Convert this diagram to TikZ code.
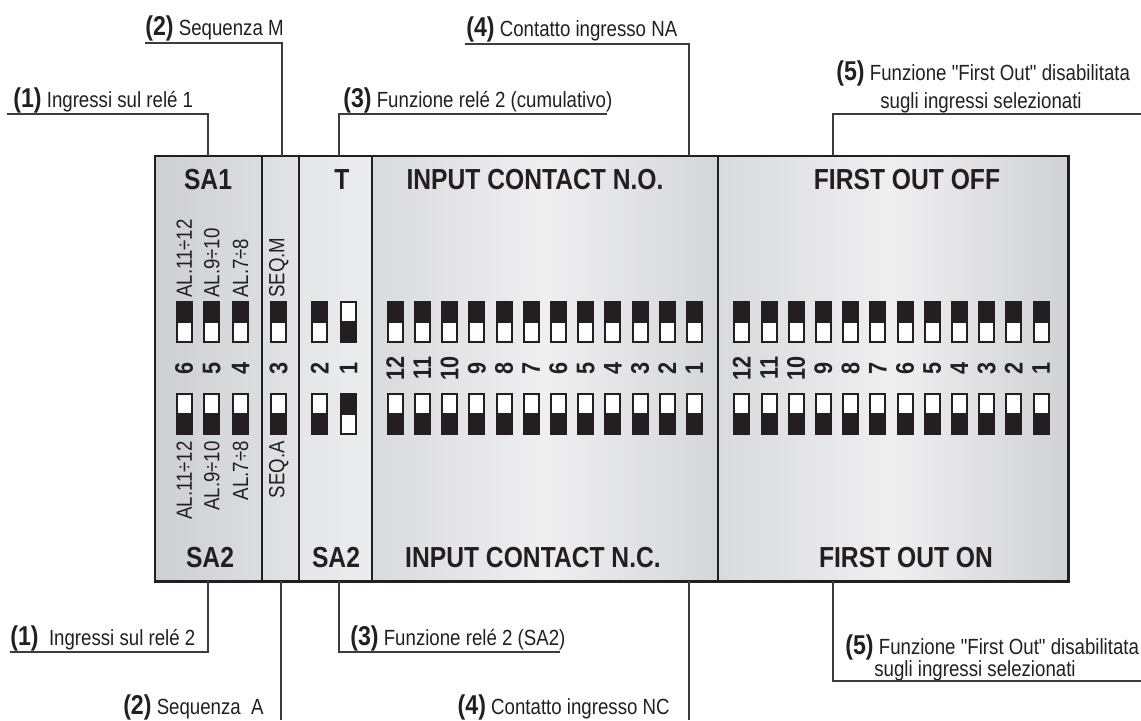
\documentclass[tikz,border=0pt]{standalone}
\usepackage{fontspec}
\setmainfont{Liberation Sans}[FakeStretch=0.85, Ligatures=TeXOff]
\usepackage{tikz}
\usetikzlibrary{positioning}
\definecolor{mydark}{RGB}{35,31,32}
\definecolor{leadgray}{RGB}{60,60,60}
\definecolor{panedge}{RGB}{217,218,220}
\definecolor{panmid}{RGB}{239,239,240}
\definecolor{sagray}{RGB}{206,207,210}
\definecolor{salight}{RGB}{220,221,223}
\definecolor{seqgray}{RGB}{221,222,224}
\definecolor{tgray}{RGB}{229,230,231}
\newcommand{\callno}[1]{{\fontsize{15.5}{15.5}\selectfont\bfseries(#1)}}
% dip switch: lever up (black on top) / lever down
\newcommand{\swup}[2]{\fill[mydark] (#1,#2) rectangle ++(17,42);
  \fill[white] ({#1+2},{#2+22}) rectangle ++(13,18);}
\newcommand{\swdn}[2]{\fill[mydark] (#1,#2) rectangle ++(17,42);
  \fill[white] ({#1+2},{#2+2}) rectangle ++(13,18);}
\tikzset{
  hdr/.style={font=\fontsize{16.5}{16.5}\selectfont\bfseries, text=mydark, inner sep=0pt},
  callout/.style={font=\fontsize{12.5}{13}\selectfont, text=mydark, inner sep=0pt},
  swlbl/.style={font=\fontsize{12.5}{12.5}\selectfont, text=mydark, rotate=90, inner sep=0pt},
  swnum/.style={font=\fontsize{14.5}{14.5}\selectfont\bfseries, text=mydark, rotate=90, inner sep=0pt},
  leader/.style={draw=leadgray, line width=0.6pt},
  divider/.style={draw=mydark, line width=0.7pt}
}
\begin{document}
\begin{tikzpicture}[x=0.02cm, y=-0.02cm]
\useasboundingbox (0,0) rectangle (1141,720);
% panels
\shade[left color=sagray, right color=salight] (155,156) rectangle (262,581);
\shade[left color=seqgray, right color=seqgray!85!white] (262,156) rectangle (299,581);
\shade[left color=tgray, right color=tgray!75!white] (299,156) rectangle (372,581);
\shade[left color=panedge, right color=panedge!98!black, middle color=panmid] (372,156) rectangle (718,581);
\shade[left color=panedge, right color=panedge!96!black, middle color=panmid] (718,156) rectangle (1068,581);
\draw[divider] (262,156) -- (262,581);
\draw[divider] (299,156) -- (299,581);
\draw[divider] (372,156) -- (372,581);
\draw[divider] (718,156) -- (718,581);
\draw[mydark, line width=1.7pt] (155,156) rectangle (1068,581);
% headers
\node[hdr] (sa1) at (208,180) {SA1};
\node[hdr] (sa2a) at (210,558) {SA2};
\node[hdr] (tsel) at (342,180) {T};
\node[hdr] (sa2b) at (336,558) {SA2};
\node[hdr] (inno) at (535,180) {INPUT CONTACT N.O.};
\node[hdr] (innc) at (533,558) {INPUT CONTACT N.C.};
\node[hdr] (foff) at (907,180) {FIRST OUT OFF};
\node[hdr] (fon) at (906,558) {FIRST OUT ON};
% SA1 / SA2 switches
\swup{175.7}{301} \swup{203.3}{301} \swup{232}{301} \swup{270.2}{301}
\swdn{175.7}{393} \swdn{203.3}{393} \swdn{232}{393} \swdn{270.2}{393}
\swup{311.3}{301} \swdn{340}{301}
\swdn{311.3}{393} \swup{340}{393}
\node[swlbl, anchor=west] (al12m) at (184.2,298) {AL.11÷12};
\node[swlbl, anchor=west] (al10m) at (211.8,298) {AL.9÷10};
\node[swlbl, anchor=west] (al8m) at (240.5,298) {AL.7÷8};
\node[swlbl, anchor=west] (seqm) at (278.7,298) {SEQ.M};
\node[swlbl, anchor=east] (al12a) at (184.2,441) {AL.11÷12};
\node[swlbl, anchor=east] (al10a) at (211.8,441) {AL.9÷10};
\node[swlbl, anchor=east] (al8a) at (240.5,441) {AL.7÷8};
\node[swlbl, anchor=east] (seqa) at (278.7,441) {SEQ.A};
\node[swnum] (n6) at (184.2,368) {6};
\node[swnum] (n5) at (211.8,368) {5};
\node[swnum] (n4) at (240.5,368) {4};
\node[swnum] (n3) at (278.7,368) {3};
\node[swnum] (n2) at (319.8,368) {2};
\node[swnum] (n1) at (348.5,368) {1};
% input contact and first out switches
\foreach \n [count=\c from 0] in {12,11,...,1} {
  \swup{386.7+27.2*\c}{301} \swdn{386.7+27.2*\c}{393}
  \swup{733.3+27.2*\c}{301} \swdn{733.3+27.2*\c}{393}
  \node[swnum] (nin\n) at ({395.2+27.2*\c},368) {\n};
  \node[swnum] (nfo\n) at ({741.8+27.2*\c},368) {\n};
}
% callouts above
\node[callout, anchor=base west] (c1t) at (13,107) {\callno{1} Ingressi sul relé 1};
\coordinate (u1t) at (7,114); \coordinate (p1t) at (208,156);
\draw[leader] (u1t) -| (p1t);
\node[callout, anchor=base west] (c2t) at (145,35) {\callno{2} Sequenza M};
\coordinate (u2t) at (145,43); \coordinate (p2t) at (282,156);
\draw[leader] (u2t) -| (p2t);
\node[callout, anchor=base west] (c3t) at (343,107) {\callno{3} Funzione relé 2 (cumulativo)};
\coordinate (p3t) at (339,156); \coordinate (u3t) at (607,114);
\draw[leader] (p3t) |- (u3t);
\node[callout, anchor=base west] (c4t) at (466,36) {\callno{4} Contatto ingresso NA};
\coordinate (u4t) at (465,44); \coordinate (p4t) at (689,156);
\draw[leader] (u4t) -| (p4t);
\node[callout, anchor=base west] (c5t) at (836,80) {\callno{5} Funzione "First Out" disabilitata};
\node[callout, anchor=base west] (c5tb) at (880,108) {sugli ingressi selezionati};
\coordinate (p5t) at (833,156); \coordinate (u5t) at (1141,114);
\draw[leader] (p5t) |- (u5t);
% callouts below
\node[callout, anchor=base west] (c1b) at (10,645) {\callno{1}\ \ Ingressi sul relé 2};
\coordinate (p1b) at (208,581); \coordinate (u1b) at (10,652);
\draw[leader] (u1b) -| (p1b);
\node[callout, anchor=base east] (c2b) at (264,714) {\callno{2} Sequenza\ \ A};
\coordinate (p2b) at (281,581); \coordinate (e2b) at (281,720);
\draw[leader] (p2b) -- (e2b);
\node[callout, anchor=base west] (c3b) at (350,645) {\callno{3} Funzione relé 2 (SA2)};
\coordinate (p3b) at (339,581); \coordinate (u3b) at (560,652);
\draw[leader] (p3b) |- (u3b);
\node[callout, anchor=base east] (c4b) at (670,714) {\callno{4} Contatto ingresso NC};
\coordinate (p4b) at (689,581); \coordinate (e4b) at (689,720);
\draw[leader] (p4b) -- (e4b);
\node[callout, anchor=base west] (c5b) at (845,654) {\callno{5} Funzione "First Out" disabilitata};
\node[callout, anchor=base west] (c5bb) at (874,676) {sugli ingressi selezionati};
\coordinate (p5b) at (833,581); \coordinate (u5b) at (1141,681);
\draw[leader] (p5b) |- (u5b);
\end{tikzpicture}
\end{document}
